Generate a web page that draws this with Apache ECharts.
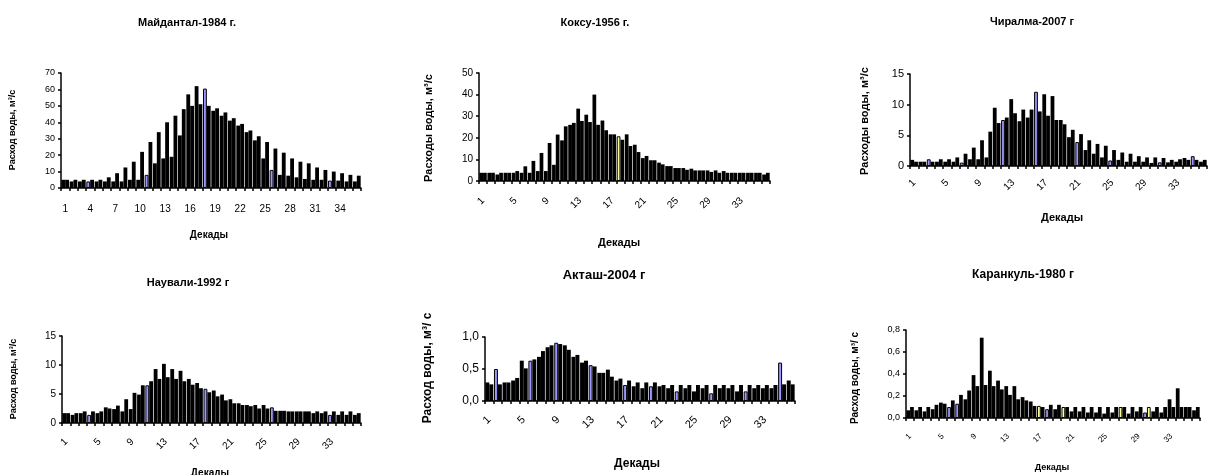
<!DOCTYPE html>
<html><head><meta charset="utf-8">
<script src="https://cdn.jsdelivr.net/npm/echarts@6/dist/echarts.min.js"></script>
<style>html,body{margin:0;padding:0;background:#fff}#c{width:1208px;height:475px}</style>
</head><body><div id="c"></div>
<script>
// ---------- DATA ----------
const decades = ['1','2','3','4','5','6','7','8','9','10','11','12','13','14','15','16','17','18','19','20','21','22','23','24','25','26','27','28','29','30','31','32','33','34','35','36'];
const titles = ['Майдантал-1984 г.', 'Коксу-1956 г.', 'Чиралма-2007 г', 'Наували-1992 г', 'Акташ-2004 г', 'Каранкуль-1980 г'];
const yNames = ['Расход воды, м³/с', 'Расходы воды, м³/с', 'Расходы воды, м³/с', 'Расход воды, м³/с', 'Расход воды, м³/ с', 'Расход воды, м³/ с'];
const xName = 'Декады';

const maidantalA = [5,4,4,4,4,4,4,4,5,5,8,15,18,19,32,57,62,60.5,47,44,41,38,34,29,18,11,8,7.5,6.5,5.5,5,5,4.5,4.5,4,4];
const maidantalB = [5,5,5,5,5,6.5,9,12.5,16,22,28,34,40,44,48,50,51,50,48.5,46,42.5,39,35,31.5,28,24,21.5,18,16,15,12.5,11,10,9,8,7.5];

const koksuA = [3.8,3.8,3,3.8,3.8,3.8,3.8,4.6,4.6,7.5,18.8,26,33.5,30.7,40,28,21.6,20.7,21.6,16.8,10.6,9.6,8.5,6.9,6,6,5.7,4.9,4.9,4.9,4.6,3.8,3.8,3.8,3.8,3];
const koksuB = [3.8,3.8,3.8,3.8,4.6,6.8,9.3,13,17.6,21.5,25.3,26.9,27.8,27.3,26,23.5,21.6,19.1,16.2,13.4,11.6,9.6,7.7,6.9,6,5.2,4.9,4.9,4.2,3.8,3.8,3.8,3.8,3.8,3.8,3.8];

const chiralmaA = [1.0,0.7,1.1,0.7,0.7,0.7,0.55,1.1,1.1,1.4,9.5,7.5,10.9,7.3,7.9,12.1,11.7,11.4,7.5,4.7,3.9,2.6,2.0,1.4,0.9,1.0,0.7,0.7,0.7,0.5,0.6,0.6,0.7,1.3,1.6,0.7];
const chiralmaB = [0.7,0.7,0.7,1.1,1.1,1.4,2.0,3.0,4.2,5.6,7.0,7.9,8.6,9.2,9.2,8.9,8.2,7.5,6.8,5.9,5.2,4.2,3.6,3.3,2.6,2.2,2.0,1.6,1.4,1.4,1.3,1.0,1.1,1.0,1.0,1.0];

const nauvaliA = [1.7,1.4,1.7,1.4,1.7,2.7,2.4,2.0,2.4,4.9,6.5,9.3,10.2,9.3,9.0,7.6,6.9,5.9,5.6,4.9,4.1,3.4,3.1,3.1,3.1,2.7,2.1,2.0,2.0,2.0,1.7,1.7,1.4,1.4,1.4,1.4];
const nauvaliB = [1.7,1.7,2.0,2.0,2.0,2.5,3.0,4.1,5.2,6.5,7.2,7.6,7.9,7.6,7.2,6.6,6.0,5.3,4.6,3.9,3.4,3.1,2.9,2.5,2.5,2.1,2.1,2.0,2.0,2.0,2.0,2.0,2.0,2.0,2.0,1.7];

const aktashA = [0.29,0.5,0.29,0.32,0.63,0.63,0.69,0.84,0.91,0.87,0.69,0.6,0.56,0.44,0.49,0.32,0.25,0.23,0.2,0.23,0.23,0.2,0.15,0.2,0.15,0.2,0.12,0.2,0.2,0.15,0.15,0.2,0.2,0.2,0.6,0.32];
const aktashB = [0.26,0.26,0.29,0.36,0.51,0.65,0.78,0.87,0.89,0.80,0.72,0.63,0.54,0.44,0.38,0.35,0.32,0.29,0.29,0.29,0.25,0.25,0.25,0.25,0.25,0.25,0.25,0.25,0.25,0.25,0.25,0.25,0.25,0.25,0.26,0.26];

const karankulA = [0.07,0.07,0.06,0.08,0.14,0.1,0.13,0.17,0.39,0.73,0.43,0.34,0.29,0.29,0.19,0.15,0.11,0.08,0.08,0.1,0.06,0.06,0.05,0.05,0.04,0.05,0.1,0.04,0.06,0.05,0.06,0.05,0.17,0.27,0.1,0.07];
const karankulB = [0.1,0.1,0.1,0.12,0.13,0.16,0.21,0.25,0.29,0.3,0.29,0.26,0.21,0.17,0.16,0.11,0.1,0.12,0.12,0.1,0.1,0.1,0.1,0.1,0.1,0.1,0.1,0.1,0.1,0.1,0.1,0.1,0.1,0.1,0.1,0.1];

const seriesA = [maidantalA, koksuA, chiralmaA, nauvaliA, aktashA, karankulA];
const seriesB = [maidantalB, koksuB, chiralmaB, nauvaliB, aktashB, karankulB];

// ---------- STYLE / LAYOUT ----------
const BLUE = '#9999ff', YELLOW = '#ffff99';
// decades whose bar is drawn with coloured fill (as in the reference)
const hlA = [
  {4:BLUE,11:BLUE,18:BLUE,26:BLUE,33:BLUE},
  {18:YELLOW},
  {3:BLUE,7:BLUE,12:BLUE,16:BLUE,21:BLUE,25:BLUE,31:BLUE,35:BLUE},
  {4:BLUE,11:BLUE,18:BLUE,26:BLUE,33:BLUE},
  {2:BLUE,6:BLUE,9:BLUE,13:BLUE,17:BLUE,20:BLUE,23:BLUE,27:BLUE,31:BLUE,35:BLUE},
  {6:BLUE,7:BLUE,17:YELLOW,18:BLUE,20:YELLOW,27:YELLOW,30:BLUE}
];
const hlB = [{},{},{},{},{},{30:YELLOW}];

const FF = '"Liberation Sans", Arial, sans-serif';
const panels = [
  {grid:{left:61,top:73,width:300,height:115}, max:70, interval:10, dec:0, xInt:2, rot:0, margin:16, tick:9, xl:10,
   title:[187,23,11], yName:[13,130,9], xName:[209,235,10]},
  {grid:{left:479,top:73,width:291,height:108}, max:50, interval:10, dec:0, xInt:3, rot:45, margin:18, tick:10, xl:10,
   title:[595,23,11], yName:[429,128,11], xName:[619,243,11]},
  {grid:{left:910,top:74,width:297,height:92}, max:15, interval:5, dec:0, xInt:3, rot:45, margin:15, tick:11, xl:10,
   title:[1032,22,11], yName:[865,121,11], xName:[1062,218,11]},
  {grid:{left:62,top:336,width:299,height:87}, max:15, interval:5, dec:0, xInt:3, rot:45, margin:17, tick:10, xl:10,
   title:[188,283,11], yName:[14,379,9], xName:[210,473,10]},
  {grid:{left:485,top:337,width:310,height:64}, max:1, interval:0.5, dec:1, xInt:3, rot:45, margin:17, tick:12, xl:11,
   title:[604,275,13], yName:[428,368,12], xName:[637,464,12]},
  {grid:{left:906,top:330,width:294,height:88}, max:0.8, interval:0.2, dec:1, xInt:3, rot:45, margin:17, tick:9, xl:8,
   title:[1023,275,12], yName:[855,378,10], xName:[1052,468,9]}
];

function buildItems(vals, hl) {
  return vals.map((v, i) => {
    const c = hl[i + 1];
    return c ? {value: v, itemStyle: {color: c, borderColor: '#000', borderWidth: 1}} : v;
  });
}

const grids = [], xAxes = [], yAxes = [], series = [], graphics = [];
panels.forEach((p, k) => {
  grids.push(Object.assign({containLabel:false}, p.grid));
  xAxes.push({
    type:'category', gridIndex:k, data:decades, boundaryGap:true,
    axisLine:{show:true, lineStyle:{color:'#000', width:1.5}},
    axisTick:{show:true, interval:0, length:3, lineStyle:{color:'#000', width:1.5}},
    axisLabel:{interval:p.xInt, rotate:p.rot, margin:p.margin, color:'#000', fontSize:p.xl, fontFamily:FF},
    splitLine:{show:false}
  });
  yAxes.push({
    type:'value', gridIndex:k, min:0, max:p.max, interval:p.interval,
    axisLine:{show:true, lineStyle:{color:'#000', width:1.5}},
    axisTick:{show:true, length:3, lineStyle:{color:'#000', width:1.5}},
    axisLabel:{color:'#000', fontSize:p.tick, fontFamily:FF, margin:6,
      formatter: v => p.dec ? v.toFixed(p.dec).replace('.', ',') : String(v)},
    splitLine:{show:false}
  });
  [seriesA[k], seriesB[k]].forEach((vals, j) => {
    series.push({
      type:'bar', xAxisIndex:k, yAxisIndex:k, barGap:'0%', barCategoryGap:'8%',
      itemStyle:{color:'#000'}, silent:true, animation:false,
      data: buildItems(vals, j === 0 ? hlA[k] : hlB[k])
    });
  });
  graphics.push({type:'text', x:p.title[0], y:p.title[1],
    style:{text:titles[k], font:'bold ' + p.title[2] + 'px ' + FF, fill:'#000', textAlign:'center', textVerticalAlign:'middle'}});
  graphics.push({type:'text', x:p.yName[0], y:p.yName[1], rotation:Math.PI/2,
    style:{text:yNames[k], font:'bold ' + p.yName[2] + 'px ' + FF, fill:'#000', textAlign:'center', textVerticalAlign:'middle'}});
  graphics.push({type:'text', x:p.xName[0], y:p.xName[1],
    style:{text:xName, font:'bold ' + p.xName[2] + 'px ' + FF, fill:'#000', textAlign:'center', textVerticalAlign:'middle'}});
});

const chart = echarts.init(document.getElementById('c'), null, {renderer:'canvas'});
chart.setOption({
  animation:false, backgroundColor:'#fff',
  grid:grids, xAxis:xAxes, yAxis:yAxes, series:series, graphic:graphics
});
</script></body></html>
